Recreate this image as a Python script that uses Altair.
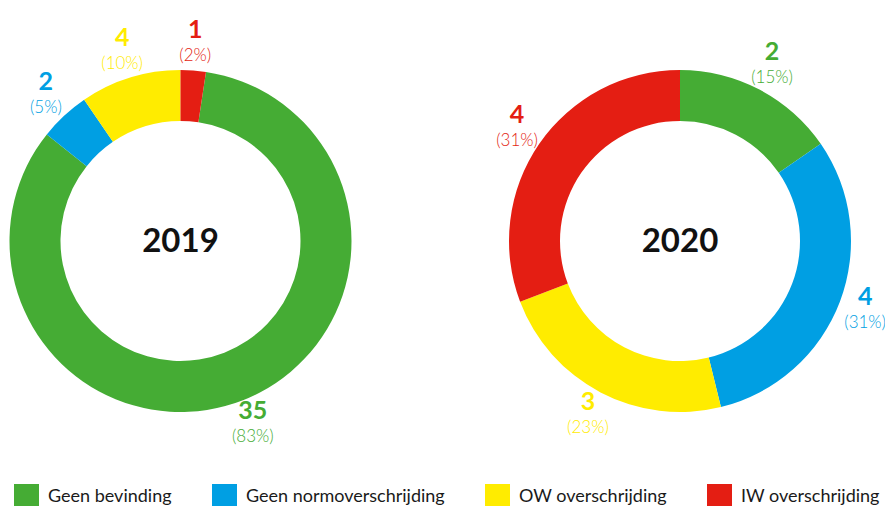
import altair as alt
import pandas as pd

categories = ["Geen bevinding", "Geen normoverschrijding", "OW overschrijding", "IW overschrijding"]
colors = ["#45AC34", "#009FE3", "#FFEC00", "#E41E13"]
years = ["2019", "2020"]
counts_2019 = [35, 2, 4, 1]
counts_2020 = [2, 4, 3, 4]
first_slice = {"2019": "IW overschrijding", "2020": "Geen bevinding"}


def frame(year, counts):
    total = sum(counts)
    start = categories.index(first_slice[year])
    rows = []
    for i, (c, v) in enumerate(zip(categories, counts)):
        rows.append({
            "year": year, "cat": c, "value": v,
            "order": (i - start) % len(categories),
            "num": str(v), "pct": f"({round(100 * v / total)}%)",
        })
    return pd.DataFrame(rows)


color_enc = alt.Color(
    "cat:N",
    scale=alt.Scale(domain=categories, range=colors),
    legend=alt.Legend(
        title=None, orient="none", legendX=6, legendY=476, direction="horizontal",
        symbolType="square", symbolSize=625, symbolStrokeWidth=0, symbolOpacity=1,
        labelFont="Lato", labelFontSize=18, labelColor="#1a1a1a", labelOffset=9,
        labelLimit=400, columnPadding=40, padding=0,
    ),
)


def donut(year, counts, cx, cy):
    df = frame(year, counts)
    base = alt.Chart(df).encode(
        theta=alt.Theta("value:Q", stack="normalize"),
        order=alt.Order("order:Q"),
        color=color_enc,
        x=alt.value(cx),
        y=alt.value(cy),
    )
    arc = base.mark_arc(outerRadius=171, innerRadius=120)
    num = base.mark_text(radius=198, dy=-14, font="Lato", fontSize=25, fontWeight="bold",
                         baseline="middle").encode(text="num:N")
    pct = base.mark_text(radius=198, dy=12, font="Lato", fontSize=17, fontWeight=300,
                         baseline="middle").encode(text="pct:N")
    center = alt.Chart(pd.DataFrame({"year": [year]})).mark_text(
        font="Lato", fontSize=33, fontWeight="bold", color="#111111", baseline="middle"
    ).encode(text="year:N", x=alt.value(cx), y=alt.value(cy + 1))
    return [arc, num, pct, center]


layers = donut("2019", counts_2019, 172.5, 233) + donut("2020", counts_2020, 672, 233)

chart = alt.layer(*layers).properties(
    width=877, height=498, autosize=alt.AutoSizeParams(type="none"), padding=0
).configure_view(stroke=None)

chart.save("out.html", embed_options={"renderer": "svg", "actions": False})
